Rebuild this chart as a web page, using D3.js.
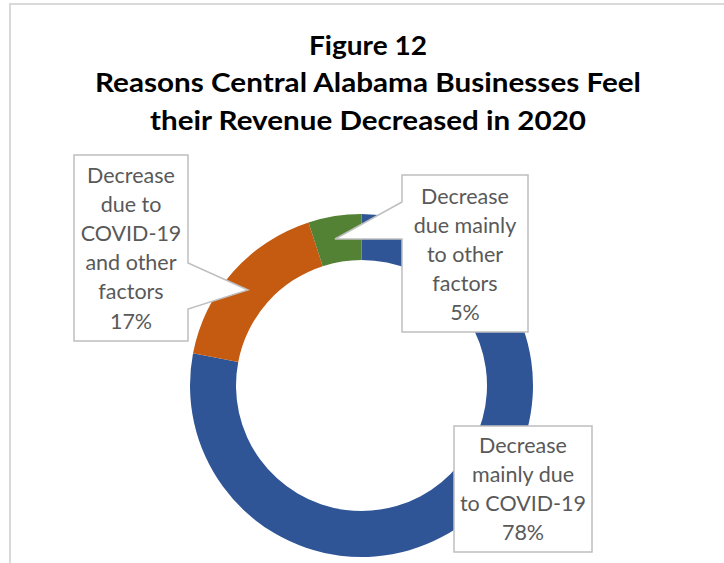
<!DOCTYPE html>
<html>
<head>
<meta charset="utf-8">
<script src="https://cdn.jsdelivr.net/npm/d3@7/dist/d3.min.js"></script>
<style>
  html, body { margin: 0; padding: 0; background: #fff; }
  svg { display: block; }
</style>
</head>
<body>
<svg id="chart" width="724" height="563"></svg>
<script>
// Survey shares of revenue-decrease reasons (percent)
const categories = [
  "Decrease mainly due to COVID-19",
  "Decrease due to COVID-19 and other factors",
  "Decrease due mainly to other factors"
];
const values = [78, 17, 5];
const colors = ["#2F5597", "#C55A11", "#548235"];
// Wrapped label lines for each slice (value line is appended)
const labelLines = [
  ["Decrease", "mainly due", "to COVID-19"],
  ["Decrease", "due to", "COVID-19", "and other", "factors"],
  ["Decrease", "due mainly", "to other", "factors"]
];
const titleLines = [
  "Figure 12",
  "Reasons Central Alabama Businesses Feel",
  "their Revenue Decreased in 2020"
];

const svg = d3.select("#chart");

// outer frame
svg.append("path")
  .attr("d", "M10,563 V4 H724")
  .attr("fill", "none")
  .attr("stroke", "#d9d9d9")
  .attr("stroke-width", 2);

// title
const titleY = [55, 92, 130];
const titleW = [118, 546, 436];
svg.append("g").selectAll("text")
  .data(titleLines)
  .join("text")
  .attr("x", 368)
  .attr("y", (d, i) => titleY[i])
  .attr("text-anchor", "middle")
  .attr("font-family", "Lato, 'Open Sans', sans-serif")
  .attr("font-weight", "bold")
  .attr("font-size", 27.5)
  .attr("fill", "#000")
  .attr("textLength", (d, i) => titleW[i])
  .attr("lengthAdjust", "spacingAndGlyphs")
  .text(d => d);

// donut
const cx = 361.5, cy = 385.5;
const pie = d3.pie().sort(null).value(d => d.value);
const arc = d3.arc().innerRadius(125.5).outerRadius(171.5);
const slices = pie(values.map((v, i) => ({ name: categories[i], value: v, color: colors[i] })));

svg.append("g")
  .attr("transform", `translate(${cx},${cy})`)
  .selectAll("path")
  .data(slices)
  .join("path")
  .attr("d", arc)
  .attr("fill", d => d.data.color);

// data callouts
const fmt = d => d3.format("d")(d) + "%";
const callouts = [
  { box: [454, 426, 592, 552], tx: 523, ty: 453, step: 29, pointer: null },
  { box: [74, 155, 188, 341], tx: 131, ty: 183, step: 29.1,
    pointer: { side: "right", y0: 263, y1: 309, tip: [248, 290] } },
  { box: [402, 175, 528, 332], tx: 465, ty: 204, step: 29,
    pointer: { side: "left", y0: 202, y1: 239, tip: [335, 239] } }
];

function calloutPath(c) {
  const [x0, y0, x1, y1] = c.box;
  const p = c.pointer;
  if (!p) return `M${x0},${y0}H${x1}V${y1}H${x0}Z`;
  if (p.side === "right")
    return `M${x0},${y0}H${x1}V${p.y0}L${p.tip[0]},${p.tip[1]}L${x1},${p.y1}V${y1}H${x0}Z`;
  return `M${x0},${y0}H${x1}V${y1}H${x0}V${p.y1}L${p.tip[0]},${p.tip[1]}L${x0},${p.y0}Z`;
}

const labels = svg.append("g").selectAll("g")
  .data(slices)
  .join("g");

labels.append("path")
  .attr("d", (d, i) => calloutPath(callouts[i]))
  .attr("fill", "#fff")
  .attr("stroke", "#bfbfbf")
  .attr("stroke-width", 1.5);

labels.each(function (d, i) {
  const c = callouts[i];
  const lines = labelLines[i].concat([fmt(d.data.value)]);
  d3.select(this).selectAll("text")
    .data(lines)
    .join("text")
    .attr("x", c.tx)
    .attr("y", (t, j) => c.ty + j * c.step)
    .attr("text-anchor", "middle")
    .attr("font-family", "Lato, 'Open Sans', sans-serif")
    .attr("font-size", 21.5)
    .attr("fill", "#595959")
    .text(t => t);
});
</script>
</body>
</html>
